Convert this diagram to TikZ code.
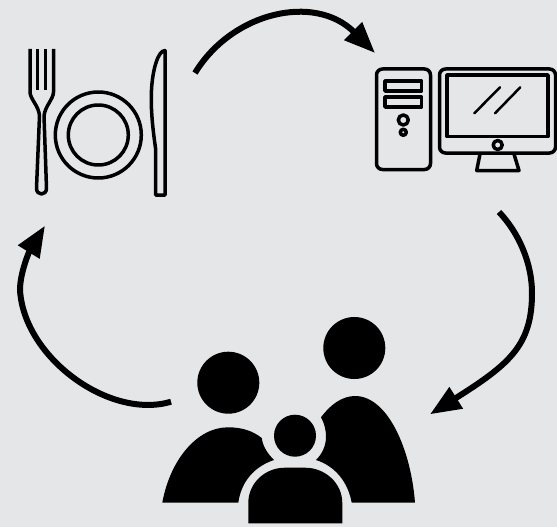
\documentclass[tikz,border=0pt]{standalone}
\usepackage{tikz}
\usetikzlibrary{arrows.meta, positioning, calc}
\usepackage{xcolor}
\definecolor{cyclebg}{RGB}{229, 230, 232}

\begin{document}
\begin{tikzpicture}[
      x=1pt, y=-1pt,
      icon/.style={draw=black, line width=3.5pt, line join=round},
      solid/.style={fill=black, draw=none},
      cyc/.style={-{Triangle[length=31pt, width=24pt]}, line width=6pt, black}
    ]
      \fill[cyclebg] (0, 0) rectangle (557, 527);
      \useasboundingbox (0, 0) rectangle (557, 527);

      % fork
      \draw[icon] (30, 49) -- (30, 92) .. controls (30, 99) and (39, 106) .. (39.5, 116)
        -- (36.5, 188) .. controls (36.2, 196) and (46.8, 196) .. (46.5, 188)
        -- (44, 116) .. controls (45, 106) and (53.5, 99) .. (53.5, 92) -- (53.5, 49);
      \draw[icon] (37.5, 49) -- (37.5, 90);
      \draw[icon] (45.5, 49) -- (45.5, 90);

      % plate
      \draw[icon] (98.3, 135) circle (43);
      \draw[icon] (98.3, 135) circle (30);

      % knife
      \draw[icon] (165, 50.5) -- (165, 195) -- (155.5, 195) -- (155.5, 148)
        .. controls (153, 130) and (150.5, 110) .. (151.5, 90)
        .. controls (152.5, 70) and (158, 50.5) .. (165, 50.5) -- cycle;

      % tower
      \draw[icon, rounded corners=6pt] (376.5, 69) rectangle (430.5, 169.5);
      \draw[icon] (385, 81) rectangle (421.5, 91);
      \draw[icon] (385, 97) rectangle (421.5, 107);
      \draw[icon] (403.3, 120) circle (5);
      \draw[icon] (403.3, 132.3) circle (3);

      % monitor
      \draw[icon, rounded corners=6pt] (439.5, 69) rectangle (555.5, 153);
      \draw[icon] (447, 75) rectangle (548, 136.5);
      \draw[icon] (497.7, 145) circle (4.5);
      \draw[icon] (480, 154) -- (476.7, 170.5) -- (519, 170.5) -- (514, 154);
      \draw[icon, line cap=round, line width=2.5pt] (474.3, 113.3) -- (500, 87.3);
      \draw[icon, line cap=round, line width=2.5pt] (495, 113.3) -- (520.3, 87.3);

      % family
      \fill[solid] (228.3, 382.7) circle (31);
      \fill[solid] (354.3, 348) circle (31);
      \fill[solid] (295, 435.7) circle (21);
      \fill[solid] (162.3, 502.7) .. controls (170, 460) and (197, 427.3) .. (228, 427.3)
        .. controls (242, 427.3) and (253, 431) .. (261.7, 438)
        .. controls (263, 447) and (268, 454) .. (274, 460)
        .. controls (253, 467) and (241, 483) .. (238.3, 502.7) -- cycle;
      \fill[solid] (321, 417.3) .. controls (330, 405) and (342, 396) .. (355, 396)
        .. controls (388, 396) and (411, 450) .. (415, 502.7) -- (351.7, 502.7)
        .. controls (348, 482) and (335, 466) .. (316, 460)
        .. controls (322, 454) and (326, 446) .. (326, 436.7)
        .. controls (326, 429) and (324, 423) .. (321, 417.3) -- cycle;
      \fill[solid] (248.3, 523.3) -- (248.3, 503) .. controls (248.3, 483) and (265, 467.7) .. (285, 467.7)
        -- (305, 467.7) .. controls (325, 467.7) and (342.3, 483) .. (342.3, 503) -- (342.3, 523.3) -- cycle;

      % cycle
      \coordinate (P1) at (195, 73);
      \coordinate (C1) at (375, 53);
      \coordinate (P2) at (499, 212);
      \coordinate (R2) at (532, 293);
      \coordinate (F2) at (430, 414.3);
      \coordinate (P3) at (171, 401.7);
      \coordinate (L3) at (20, 290);
      \coordinate (D3) at (45, 225.7);
      \draw[cyc] (P1) .. controls (232, 12) and (315, -7) .. (C1);
      \draw[cyc] (P2) .. controls (518, 232) and (532, 262) .. (R2)
        .. controls (532, 345) and (510, 364) .. (F2);
      \draw[cyc] (P3) .. controls (110, 420) and (24, 358) .. (L3)
        .. controls (20, 272) and (30, 250) .. (D3);
    \end{tikzpicture}
\end{document}
